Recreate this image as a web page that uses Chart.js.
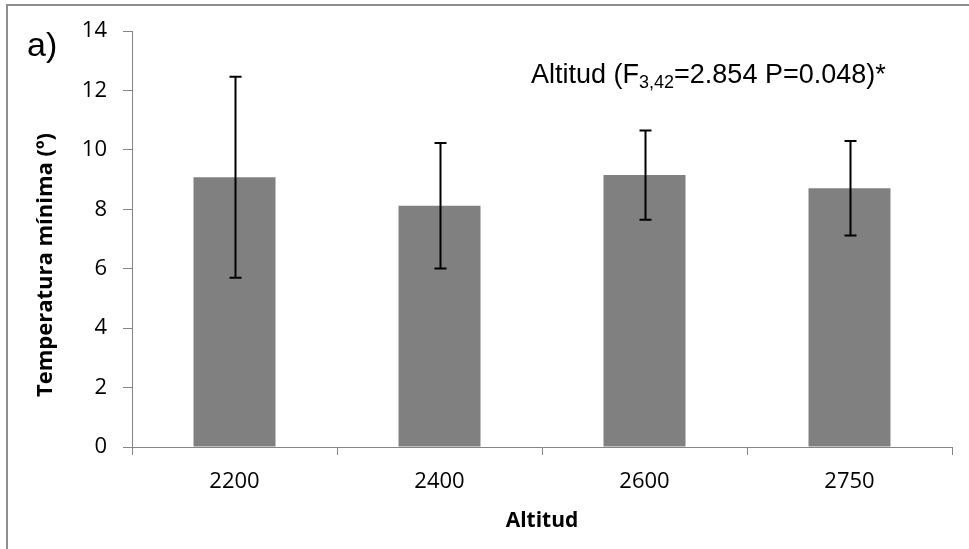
<!DOCTYPE html>
<html>
<head>
<meta charset="utf-8">
<script src="https://cdn.jsdelivr.net/npm/chart.js@4/dist/chart.umd.min.js"></script>
<style>
  body { margin: 0; background: #fff; }
  #wrap { position: relative; width: 969px; height: 549px; overflow: hidden; }
  #frame {
    position: absolute; left: 6px; top: 4px; width: 980px; height: 543px;
    border-left: 2px solid #8f8f8f; border-top: 2px solid #8f8f8f; border-bottom: 1px solid #c8c8c8;
    pointer-events: none;
  }
  canvas { position: absolute; left: 0; top: 0; }
</style>
</head>
<body>
<div id="wrap">
  <canvas id="chart" width="969" height="549"></canvas>
  <div id="frame"></div>
</div>
<script>
// data
const altitudes = ['2200', '2400', '2600', '2750'];
const tempMin = [9.08, 8.12, 9.15, 8.71];
const tempErr = [3.38, 2.11, 1.50, 1.59];
const yTicks = [0, 2, 4, 6, 8, 10, 12, 14];

const tickFont = { family: 'Open Sans', size: 22 };

// error bars + free text
const extras = {
    id: 'extras',
    afterDatasetsDraw(chart) {
        const ctx = chart.ctx;
        const y = chart.scales.y;
        const meta = chart.getDatasetMeta(0);
        ctx.save();
        ctx.strokeStyle = '#000';
        ctx.lineWidth = 2;
        meta.data.forEach((bar, i) => {
            const x = Math.round(bar.x) + 0.5;
            const top = y.getPixelForValue(tempMin[i] + tempErr[i]);
            const bot = y.getPixelForValue(tempMin[i] - tempErr[i]);
            ctx.beginPath();
            ctx.moveTo(x, top); ctx.lineTo(x, bot);
            ctx.moveTo(x - 6, top); ctx.lineTo(x + 6, top);
            ctx.moveTo(x - 6, bot); ctx.lineTo(x + 6, bot);
            ctx.stroke();
        });
        ctx.restore();
    },
    afterDraw(chart) {
        const ctx = chart.ctx;
        ctx.save();
        ctx.fillStyle = '#000';
        ctx.textBaseline = 'alphabetic';

        ctx.font = '34px "Liberation Sans"';
        ctx.textAlign = 'left';
        ctx.fillText('a)', 27, 56);

        // annotation with subscript
        let x = 531;
        const base = 83;
        ctx.font = '27px "Liberation Sans"';
        ctx.fillText('Altitud (F', x, base);
        x += ctx.measureText('Altitud (F').width;
        ctx.font = '18px "Liberation Sans"';
        ctx.fillText('3,42', x, base + 5);
        x += ctx.measureText('3,42').width;
        ctx.font = '27px "Liberation Sans"';
        ctx.fillText('=2.854 P=0.048)*', x, base);

        // axis titles
        ctx.font = 'bold 21px "Open Sans"';
        ctx.textAlign = 'center';
        ctx.textBaseline = 'middle';
        ctx.fillText('Altitud', (chart.chartArea.left + chart.chartArea.right) / 2, 521);
        ctx.font = 'bold 22px "Open Sans"';
        ctx.translate(46, 265);
        ctx.rotate(-Math.PI / 2);
        ctx.fillText('Temperatura mínima (º)', 0, 0);
        ctx.restore();
    }
};

new Chart(document.getElementById('chart'), {
    type: 'bar',
    data: {
        labels: altitudes,
        datasets: [{
            data: tempMin,
            backgroundColor: '#808080',
            borderWidth: 0,
            categoryPercentage: 1.0,
            barPercentage: 0.4
        }]
    },
    options: {
        responsive: false,
        animation: false,
        events: [],
        layout: { padding: { left: 0, top: 31, right: 17, bottom: 0 } },
        plugins: { legend: { display: false }, tooltip: { enabled: false } },
        scales: {
            x: {
                afterFit: s => { s.height = 102; },
                border: { color: '#868686', width: 1 },
                grid: { drawOnChartArea: false, drawTicks: true, tickLength: 8, color: '#868686', offset: true },
                ticks: { color: '#000', font: tickFont, padding: 14 }
            },
            y: {
                min: 0, max: 14,
                afterFit: s => { s.width = 132; },
                afterBuildTicks: s => { s.ticks = yTicks.map(v => ({ value: v })); },
                border: { color: '#868686', width: 1 },
                grid: { drawOnChartArea: false, drawTicks: true, tickLength: 9, color: '#868686' },
                ticks: { color: '#000', font: tickFont, padding: 16 }
            }
        }
    },
    plugins: [extras]
});
</script>
</body>
</html>
